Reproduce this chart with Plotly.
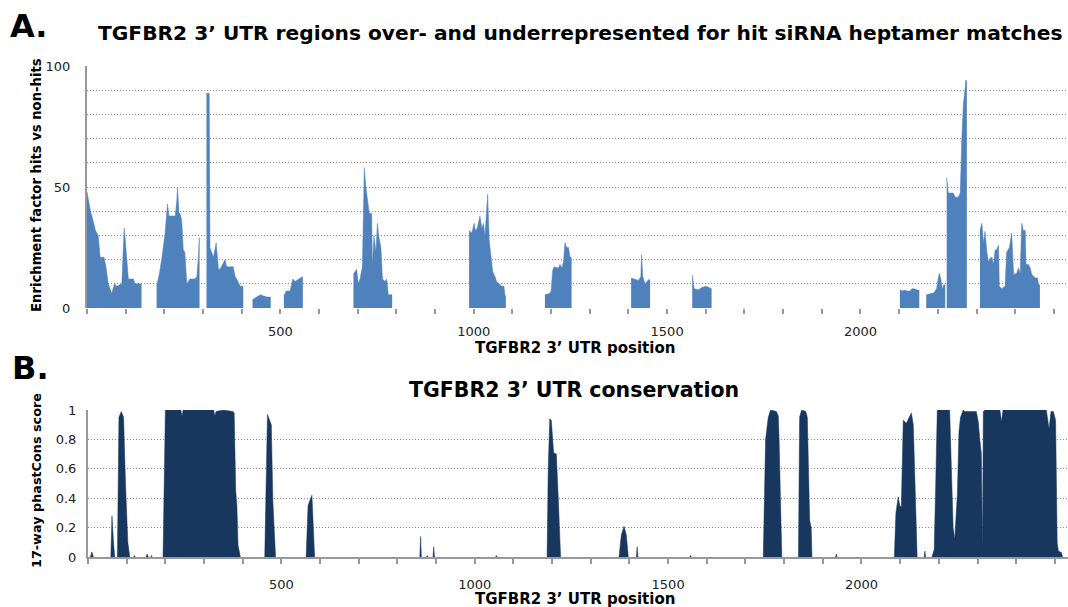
import plotly.graph_objects as go

# ---------------- data: panel A (enrichment factor), segments of (position, value)
enrich_pos = [
    [0, 3, 9, 16, 22, 29, 34, 44, 49, 55, 64, 71, 77, 90, 96, 99, 107, 120, 124, 141],
    [180, 187, 193, 202, 208, 212, 219, 228, 232, 234, 238, 241, 245, 249, 253, 258, 266, 279, 284, 288, 290, 291],
    [309, 316, 318, 327, 334, 340, 344, 357, 361, 370, 378, 383, 387, 396, 404],
    [428, 448, 465, 475],
    [509, 515, 525, 532, 538, 547, 555, 558],
    [689, 697, 702, 706, 712, 715, 717, 721, 725, 730, 736, 738, 742, 747, 751, 754, 760, 764, 771, 775, 779, 783, 789],
    [988, 995, 1001, 1004, 1009, 1016, 1021, 1025, 1029, 1034, 1036, 1040, 1044, 1049, 1055, 1059, 1066, 1072, 1078, 1081, 1083],
    [1184, 1196, 1200, 1204, 1208, 1219, 1223, 1228, 1232, 1234, 1236, 1240, 1245, 1249, 1253],
    [1407, 1417, 1426, 1432, 1434, 1437, 1443, 1452, 1456],
    [1565, 1570, 1581, 1590, 1601, 1611, 1615],
    [2102, 2107, 2115, 2120, 2128, 2133, 2141, 2146, 2152],
    [2170, 2180, 2189, 2193, 2197, 2202, 2204, 2208, 2212, 2215, 2219],
    [2223, 2227, 2240, 2245, 2253, 2258, 2262, 2266, 2271, 2272, 2275],
    [2309, 2314, 2318, 2322, 2327, 2331, 2335, 2340, 2344, 2348, 2352, 2357, 2359, 2365, 2374, 2378, 2385,
     2391, 2396, 2404, 2408, 2413, 2417, 2421, 2426, 2428, 2434, 2439, 2443, 2452, 2458, 2460, 2464],
]
enrich_val = [
    [48, 45, 40, 36, 32, 30, 21, 21, 17, 10, 6, 10, 9, 10, 33, 28, 12, 12, 10, 10],
    [9, 14, 20, 31, 43, 38, 38, 38, 44, 50, 39, 39, 36, 24, 23, 10, 12, 12, 13, 21, 29, 29],
    [88.7, 88.7, 25, 21, 27, 16, 16, 20, 17, 17, 17, 13, 12, 9, 9],
    [3.4, 5.5, 4.5, 4.5],
    [5, 7, 7, 12, 11, 12, 13, 13],
    [14, 16, 10, 12, 17, 35, 58, 50, 44, 39, 39, 17, 30, 23, 35, 30, 25, 12, 11, 12, 5.5, 5.5, 5.5],
    [32, 31, 35, 32, 33, 38, 33, 35, 30, 43, 47, 28, 22, 15, 13, 11, 10, 9, 9, 5, 5],
    [5.5, 6, 7, 15.5, 17, 16.5, 18, 16.5, 19, 22, 27, 25, 25, 21, 21],
    [12.4, 11.7, 11.4, 13, 22, 13, 10, 11.7, 11.7],
    [13.8, 8, 7.5, 8.5, 9, 8.5, 8],
    [7.6, 7, 7.4, 7, 7, 8, 7.8, 7.4, 7.4],
    [5.5, 5.8, 6.2, 7, 8.3, 13, 14.4, 11.7, 7.6, 9.6, 9.6],
    [54, 47.5, 47.5, 45.8, 45.8, 47.5, 70, 84, 91.5, 94, 94],
    [32, 35, 27, 31.6, 23, 19, 20.6, 21, 18, 24, 24, 26, 9, 8, 9, 23, 25,
     31, 13.8, 14.4, 16.5, 14.4, 35, 32, 32, 18, 18, 16.5, 13.8, 12.4, 12.4, 9.6, 9.6],
]

# ---------------- data: panel B (phastCons conservation)
cons_pos = [
    [6, 10, 14],
    [59, 62, 66, 69],
    [76, 78, 80, 86, 92, 97, 103, 108],
    [118, 120, 122],
    [150, 153, 156],
    [162, 164, 166],
    [194, 197, 200, 240, 243, 246, 325, 328, 331, 350, 375, 378, 382, 385, 388, 394],
    [457, 461, 464, 474, 478, 485],
    [564, 567, 569, 573, 579, 586],
    [858, 860, 862],
    [875, 877, 879],
    [892, 894, 896],
    [1054, 1056, 1058],
    [1187, 1190, 1194, 1198, 1204, 1211, 1216, 1222],
    [1373, 1375, 1379, 1386, 1392, 1397],
    [1418, 1420, 1422],
    [1556, 1558, 1560],
    [1746, 1749, 1752, 1759, 1765, 1780, 1785, 1787, 1791, 1794],
    [1837, 1840, 1845, 1856, 1860, 1862, 1866, 1870, 1872],
    [1933, 1935, 1937],
    [2085, 2089, 2095, 2099, 2103, 2108, 2116, 2123, 2129, 2134, 2138, 2144],
    [2162, 2164, 2166],
    [2182, 2188, 2192, 2196, 2228, 2233, 2237, 2241, 2246, 2248, 2252, 2256, 2263, 2267, 2297, 2302, 2306,
     2310, 2313, 2315, 2319, 2358, 2362, 2366, 2478, 2485, 2490, 2496, 2502, 2506, 2509, 2517, 2520],
]
cons_val = [
    [0, 0.035, 0],
    [0, 0.28, 0.1, 0],
    [0, 0.4, 0.95, 0.99, 0.95, 0.5, 0.1, 0],
    [0, 0.01, 0],
    [0, 0.02, 0],
    [0, 0.01, 0],
    [0, 0.6, 1.0, 1.0, 0.96, 1.0, 1.0, 0.96, 0.99, 1.0, 0.99, 0.98, 0.45, 0.35, 0.08, 0],
    [0, 0.5, 0.97, 0.9, 0.38, 0],
    [0, 0.2, 0.35, 0.38, 0.42, 0],
    [0, 0.14, 0],
    [0, 0.01, 0],
    [0, 0.07, 0],
    [0, 0.01, 0],
    [0, 0.6, 0.94, 0.93, 0.71, 0.7, 0.4, 0],
    [0, 0.05, 0.15, 0.21, 0.15, 0],
    [0, 0.07, 0],
    [0, 0.01, 0],
    [0, 0.4, 0.8, 0.95, 1.0, 0.99, 0.96, 0.8, 0.3, 0],
    [0, 0.95, 1.0, 0.99, 0.95, 0.7, 0.25, 0.2, 0],
    [0, 0.02, 0],
    [0, 0.3, 0.41, 0.35, 0.34, 0.93, 0.91, 0.95, 0.98, 0.9, 0.5, 0],
    [0, 0.04, 0],
    [0, 0.05, 0.5, 1.0, 1.0, 0.62, 0.2, 0.12, 0.35, 0.43, 0.85, 0.95, 1.0, 0.99, 0.99, 0.92, 0.8,
     0.7, 0.06, 0.99, 1.0, 1.0, 0.92, 1.0, 1.0, 0.87, 0.99, 0.99, 0.93, 0.1, 0.04, 0.03, 0],
]

x_label_ticks = [500, 1000, 1500, 2000]
enrich_ticks = [0, 50, 100]
utr_length = 2534

TITLE_A = "TGFBR2 3\u2019 UTR regions over- and underrepresented for hit siRNA heptamer matches"
TITLE_B = "TGFBR2 3\u2019 UTR conservation"
XTITLE = "TGFBR2 3\u2019 UTR position"
YTITLE_A = "Enrichment factor hits vs non-hits"
YTITLE_B = "17-way phastCons score"

W, H = 1068, 607
FONT = "DejaVu Sans"
BLUE = "#4F81BD"
NAVY = "#17375E"
AXIS_C = "#999999"
GRID_C = "#8c8c8c"
GRID_DASH = "1px,2px"

fig = go.Figure()

# one filled trace per contiguous region so that gaps stay empty
for p, v in zip(enrich_pos, enrich_val):
    fig.add_trace(go.Scatter(x=p, y=v, mode="lines", fill="tozeroy", fillcolor=BLUE,
                             line=dict(color=BLUE, width=0.5),
                             hoverinfo="skip", xaxis="x", yaxis="y", showlegend=False))
for p, v in zip(cons_pos, cons_val):
    fig.add_trace(go.Scatter(x=p, y=v, mode="lines", fill="tozeroy", fillcolor=NAVY,
                             line=dict(color=NAVY, width=0.5),
                             hoverinfo="skip", xaxis="x2", yaxis="y2", showlegend=False))


def px_x(p):
    return p / W


def px_y(p):
    return 1 - p / H


tickfont = dict(family=FONT, size=13, color="#222222")

common_x = dict(
    range=[0, utr_length], tickmode="array", tickvals=x_label_ticks,
    ticks="outside", ticklen=5, tickwidth=2, tickcolor=AXIS_C,
    minor=dict(tickmode="linear", tick0=0, dtick=100, ticks="outside",
               ticklen=5, tickwidth=2, tickcolor=AXIS_C, showgrid=False),
    showgrid=False, zeroline=False, tickfont=tickfont,
    fixedrange=True, automargin=False,
)

fig.update_layout(
    width=W, height=H, margin=dict(l=0, r=0, t=0, b=0, autoexpand=False),
    paper_bgcolor="white", plot_bgcolor="white",
    font=dict(family=FONT, color="#000000"),
    xaxis=dict(domain=[px_x(87), px_x(1067)], anchor="y", showline=False,
               ticklabelstandoff=6, **common_x),
    yaxis=dict(domain=[px_y(308), px_y(66)], anchor="x", range=[0, 100],
               tickmode="array", tickvals=enrich_ticks, ticks="",
               showgrid=True, gridcolor=GRID_C, griddash=GRID_DASH, gridwidth=1,
               minor=dict(tickmode="linear", tick0=0, dtick=10, showgrid=True,
                          gridcolor=GRID_C, griddash=GRID_DASH, gridwidth=1, ticks=""),
               showline=True, linecolor=AXIS_C, linewidth=2, zeroline=False,
               tickfont=tickfont, ticklabelstandoff=12, fixedrange=True, automargin=False),
    xaxis2=dict(domain=[px_x(88), 1.0], anchor="y2", showline=True,
                linecolor=AXIS_C, linewidth=2, ticklabelstandoff=9, **common_x),
    yaxis2=dict(domain=[px_y(557), px_y(410)], anchor="x2", range=[0, 1],
                tickmode="linear", tick0=0, dtick=0.2, ticks="",
                showgrid=True, gridcolor=GRID_C, griddash=GRID_DASH, gridwidth=1,
                showline=True, linecolor=AXIS_C, linewidth=2, zeroline=False,
                tickfont=tickfont, ticklabelstandoff=7, fixedrange=True, automargin=False),
)

ann = [
    dict(text="<b>A.</b>", x=px_x(8), y=px_y(26), xanchor="left", yanchor="middle",
         font=dict(size=32, family=FONT, color="#000")),
    dict(text="<b>" + TITLE_A + "</b>", x=px_x(580), y=px_y(33), xanchor="center", yanchor="middle",
         font=dict(size=20.2, family=FONT, color="#000")),
    dict(text="<b>" + YTITLE_A + "</b>", x=px_x(36), y=px_y(185), xanchor="center", yanchor="middle",
         textangle=-90, font=dict(size=13.2, family=FONT, color="#000")),
    dict(text="<b>" + XTITLE + "</b>", x=px_x(575), y=px_y(348), xanchor="center", yanchor="middle",
         font=dict(size=15, family=FONT, color="#000")),
    dict(text="<b>B.</b>", x=px_x(10), y=px_y(368), xanchor="left", yanchor="middle",
         font=dict(size=32, family=FONT, color="#000")),
    dict(text="<b>" + TITLE_B + "</b>", x=px_x(574), y=px_y(390), xanchor="center", yanchor="middle",
         font=dict(size=20.5, family=FONT, color="#000")),
    dict(text="<b>" + YTITLE_B + "</b>", x=px_x(36), y=px_y(481), xanchor="center", yanchor="middle",
         textangle=-90, font=dict(size=12.8, family=FONT, color="#000")),
    dict(text="<b>" + XTITLE + "</b>", x=px_x(575), y=px_y(599), xanchor="center", yanchor="middle",
         font=dict(size=15, family=FONT, color="#000")),
]
for a in ann:
    a.update(xref="paper", yref="paper", showarrow=False)
fig.update_layout(annotations=ann)

fig.write_html("out.html", config={"displayModeBar": False},
               post_script="document.body.style.margin='0';document.body.style.padding='0';")
